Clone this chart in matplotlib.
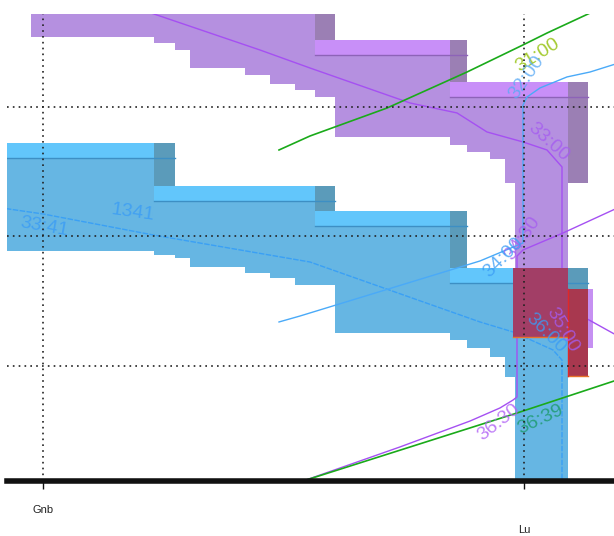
import matplotlib.pyplot as plt
from matplotlib.patches import Rectangle

# stations along the line (km) and minute grid
stations = ["Gnb", "Lu"]
station_km = [0.0, 4.81]
grid_minutes = [32, 33, 34]

# ends of the track sections (km), shared by both blocked trains
section_end = [1.11, 1.32, 1.47, 2.02, 2.27, 2.52, 2.72, 2.92,
               4.07, 4.24, 4.47, 4.62, 4.72, 5.25, 5.45]

# purple train: blocks (start km, end km, occupation start min) + exit block
purple_start = -0.12
purple_block_a = [-0.12, 2.72, 4.07, 5.25]
purple_block_b = [2.92, 4.24, 5.45]
purple_block_t = [31.0, 31.483, 31.807, 32.587]
purple_release = [31.459, 31.506, 31.560, 31.699, 31.753, 31.822, 31.869, 31.923,
                  32.232, 32.293, 32.347, 32.402, 32.587, 33.776, 32.587]

# blue train 1341
blue_start = -0.5
blue_block_a = [-0.5, 1.11, 2.72, 4.07, 5.25]
blue_block_b = [1.32, 2.92, 4.24, 5.45]
blue_block_t = [32.278, 32.610, 32.803, 33.243, 33.413]
blue_release = [33.112, 33.143, 33.166, 33.236, 33.282, 33.320, 33.375, 33.375,
                33.745, 33.799, 33.861, 33.931, 34.085, 35.0, 34.077]

# opposite purple train block east of Lu
opp_x = [5.25, 5.50]
opp_t = [33.405, 33.861]

# conflicts (x0, x1, t0, t1)
conf_x0 = [4.70, 5.25]
conf_x1 = [5.25, 5.45]
conf_t0 = [33.243, 33.405]
conf_t1 = [33.776, 34.077]
conf_col = ["#a23e66", "#a8384f"]

# train paths (km, min)
purple1_km = [0.95, 2.17, 2.67, 3.67, 4.14, 4.44, 4.80, 5.04, 5.19, 5.19, 5.80]
purple1_t = [31.24, 31.560, 31.699, 31.969, 32.046, 32.193, 32.270, 32.332, 32.463, 33.529, 33.79]
blue1_km = [-0.5, 0.0, 1.10, 2.67, 4.37, 4.70, 5.10, 5.19, 5.19]
blue1_t = [32.77, 32.826, 32.988, 33.197, 33.660, 33.737, 33.876, 33.954, 35.0]
blue2_km = [5.80, 5.47, 5.24, 4.97, 4.84, 4.80, 4.80, 4.37, 2.57, 2.36]
blue2_t = [31.65, 31.730, 31.768, 31.853, 31.923, 31.985, 33.050, 33.189, 33.614, 33.660]
purple2_km = [5.80, 5.20, 4.80, 4.74, 4.74, 4.70, 4.57, 4.27, 3.57, 2.60, 2.37]
purple2_t = [32.76, 32.973, 33.104, 33.151, 34.239, 34.263, 34.324, 34.425, 34.625, 34.888, 34.95]
green1_km = [5.77, 5.45, 5.04, 4.80, 4.24, 3.44, 2.67, 2.36]
green1_t = [31.166, 31.282, 31.429, 31.521, 31.730, 32.008, 32.224, 32.332]
green2_km = [5.80, 4.74, 2.60, 2.45]
green2_t = [34.093, 34.363, 34.888, 34.95]

# time labels
lab_text = ["33:41", "1341", "31:00", "32:00", "33:00", "34:30", "34:00",
            "35:00", "36:00", "36:30", "36:39"]
lab_km = [0.01, 0.90, 4.95, 4.84, 5.05, 4.80, 4.60, 5.19, 5.03, 4.56, 4.97]
lab_t = [32.927, 32.819, 31.598, 31.768, 32.270, 33.012, 33.166, 33.722, 33.745, 34.432, 34.417]
lab_rot = [-10, -8, 32, 55, -42, 55, 45, -60, -45, 38, 25]
lab_col = ["#3a9cf5", "#3a9cf5", "#8fbf00", "#5aaaf5", "#a55cf0", "#a55cf0", "#3a9cf5",
           "#a55cf0", "#3a9cf5", "#b060f5", "#1a9a6a"]

bar_h = 0.116

fig = plt.figure(figsize=(6.14, 5.36), dpi=100)
ax = fig.add_axes([7 / 614, 55 / 536, 607 / 614, 467 / 536])
ax.set_xlim(-0.36, 5.71)
ax.set_ylim(34.888, 31.282)


def draw_train(start, a, b, t, release, body, bar, sq, line):
    # top of each section = occupation start of first block ending at or after it
    tops = []
    for e in section_end:
        k = next(i for i in range(len(b)) if b[i] >= e - 1e-9)
        tops.append(t[k])
    xs = [start] + section_end
    ax.fill_between(xs, tops + [tops[-1]], release + [release[-1]], step="post",
                    color=body, lw=0, zorder=1)
    for k in range(len(b)):
        ax.add_patch(Rectangle((a[k], t[k]), b[k] - a[k], bar_h, color=bar, lw=0, zorder=2))
    for k in range(len(b)):
        ax.add_patch(Rectangle((a[k + 1], t[k]), b[k] - a[k + 1], t[k + 1] - t[k],
                               color=sq, lw=0, zorder=3))
    for k in range(len(b)):
        ax.plot([a[k], b[k]], [t[k] + bar_h, t[k] + bar_h], color=line, lw=1, zorder=3.5)


draw_train(blue_start, blue_block_a, blue_block_b, blue_block_t, blue_release,
           "#66b6e3", "#62c6fb", "#5b9bba", "#3d8fc4")
draw_train(purple_start, purple_block_a, purple_block_b, purple_block_t, purple_release,
           "#b590e0", "#c88ff8", "#9b7fb4", "#8d63b8")

ax.add_patch(Rectangle((opp_x[0], opp_t[0]), opp_x[1] - opp_x[0], opp_t[1] - opp_t[0],
                       color="#c690f2", lw=0, zorder=1.5))

# train paths
ax.plot(purple1_km, purple1_t, color="#a550f2", lw=1, zorder=4)
ax.plot(blue1_km, blue1_t, color="#3aa0f5", lw=1, ls=(0, (4, 1)), zorder=4)
ax.plot(blue2_km, blue2_t, color="#4aaaf8", lw=1, zorder=4)
ax.plot(purple2_km, purple2_t, color="#a550f2", lw=1, zorder=4)
ax.plot(green1_km, green1_t, color="#1aaa1a", lw=1.2, zorder=4)
ax.plot(green2_km, green2_t, color="#1aaa1a", lw=1.2, zorder=4)

# conflicts
for i in range(len(conf_x0)):
    ax.add_patch(Rectangle((conf_x0[i], conf_t0[i]), conf_x1[i] - conf_x0[i],
                           conf_t1[i] - conf_t0[i], color=conf_col[i], lw=0, zorder=5))
    ax.plot([conf_x0[i], conf_x1[i]], [conf_t1[i], conf_t1[i]], color="#e8742a", lw=1, zorder=5.5)
ax.plot([conf_x0[1], conf_x0[1]], [conf_t0[1], conf_t1[1]], color="#e02828", lw=1, zorder=5.5)

for s, x, y, r, c in zip(lab_text, lab_km, lab_t, lab_rot, lab_col):
    ax.text(x, y, s, rotation=r, color=c, fontsize=14, family="Liberation Sans",
            ha="center", va="center", alpha=0.8, zorder=6, rotation_mode="anchor")

# dotted grid on top
for x in station_km:
    ax.axvline(x, color="#222222", lw=1.2, ls=(0, (1, 2.5)), zorder=7)
for y in grid_minutes:
    ax.axhline(y, color="#222222", lw=1.2, ls=(0, (1, 2.5)), zorder=7)

for side in ["top", "left", "right"]:
    ax.spines[side].set_visible(False)
ax.spines["bottom"].set_linewidth(4)
ax.spines["bottom"].set_color("#111111")
ax.spines["bottom"].set_zorder(8)
ax.set_yticks([])
ax.set_xticks(station_km)
ax.set_xticklabels([])
ax.tick_params(axis="x", length=6, width=1, color="#111111")

label_y = [-0.062, -0.105]
for name, x, y in zip(stations, station_km, label_y):
    ax.text(x, y, name, transform=ax.get_xaxis_transform(), ha="center", va="center",
            fontsize=8, family="Liberation Sans", color="#222222")

fig.savefig("out.png", dpi=100)
